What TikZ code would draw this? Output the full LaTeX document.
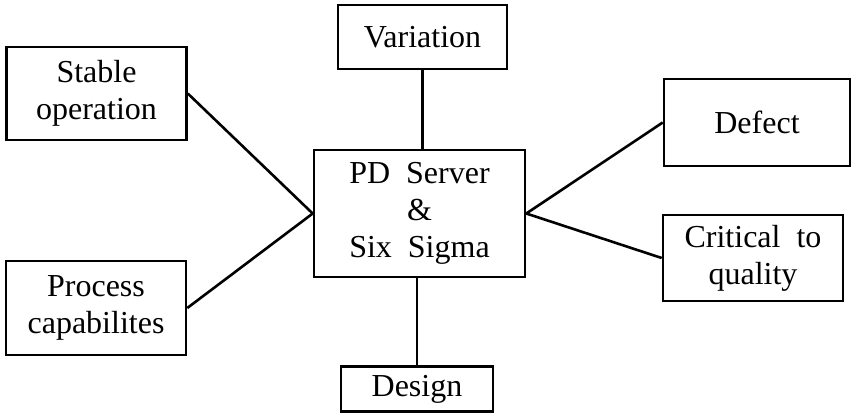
\documentclass[tikz,border=0pt]{standalone}
\usepackage{fontspec}
\setmainfont{Liberation Serif}
\begin{document}
\begin{tikzpicture}[x=1pt,y=-1pt,
  box/.style={draw, line width=2.6pt, inner sep=0pt, align=center,
    font=\fontsize{32}{37}\selectfont},
  link/.style={line width=2.6pt}]
\useasboundingbox (0,0) rectangle (852,413);
\node[box, minimum width=180pt, minimum height=93pt] (stable) at (96.5,93.5) {Stable\\operation};
\node[box, minimum width=180pt, minimum height=94pt] (process) at (96,308) {Process\\capabilites};
\node[box, minimum width=169pt, minimum height=64pt] (variation) at (422.5,37) {Variation};
\node[box, minimum width=152pt, minimum height=45pt] (design) at (417,389) {Design};
\node[box, minimum width=211pt, minimum height=127pt] (pd) at (419.5,213.5) {PD\ \ Server\\\&\\Six\ \ Sigma};
\node[box, minimum width=186pt, minimum height=87pt] (defect) at (757,122.5) {Defect};
\node[box, minimum width=180pt, minimum height=86pt] (ctq) at (753,258) {Critical\ \ to\\quality};
\draw[link] (stable.east) -- (pd.west);
\draw[link] (process.east) -- (pd.west);
\draw[link] (pd.east) -- (defect.west);
\draw[link] (pd.east) -- (ctq.west);
\draw[link] (variation.south) -- (variation.south |- pd.north);
\draw[link] (design.north) -- (design.north |- pd.south);
\end{tikzpicture}
\end{document}
